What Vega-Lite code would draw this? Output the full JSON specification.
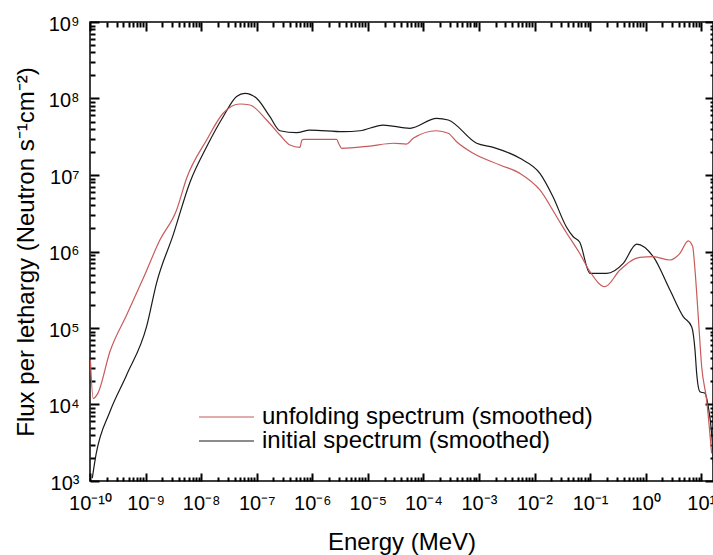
{
  "$schema": "https://vega.github.io/schema/vega-lite/v6.json",
  "width": 623,
  "height": 459,
  "autosize": {"type": "none"},
  "padding": {"left": 90, "top": 22, "right": 0, "bottom": 74},
  "background": "white",
  "config": {
    "view": {"stroke": "black", "strokeWidth": 1.5},
    "axis": {
      "domain": false,
      "labelFont": "Liberation Sans", "labelFontSize": 20, "labelColor": "black",
      "titleFont": "Liberation Sans", "titleFontSize": 24, "titleFontWeight": "normal", "titleColor": "black",
      "grid": false, "labelOverlap": false, "labelFlush": false, "labelBound": false
    }
  },
  "data": {"values": [
    {"series": "initial spectrum (smoothed)", "E": 1.10e-10, "F": 1.09e3},
    {"series": "initial spectrum (smoothed)", "E": 1.28e-10, "F": 2.19e3},
    {"series": "initial spectrum (smoothed)", "E": 2.28e-10, "F": 8.05e3},
    {"series": "initial spectrum (smoothed)", "E": 4.56e-10, "F": 2.43e4},
    {"series": "initial spectrum (smoothed)", "E": 1.045e-9, "F": 1.05e5},
    {"series": "initial spectrum (smoothed)", "E": 1.58e-9, "F": 3.9e5},
    {"series": "initial spectrum (smoothed)", "E": 3.14e-9, "F": 1.65e6},
    {"series": "initial spectrum (smoothed)", "E": 6.28e-9, "F": 8.0e6},
    {"series": "initial spectrum (smoothed)", "E": 1.257e-8, "F": 2.34e7},
    {"series": "initial spectrum (smoothed)", "E": 2.49e-8, "F": 5.78e7},
    {"series": "initial spectrum (smoothed)", "E": 4.35e-8, "F": 1.06e8},
    {"series": "initial spectrum (smoothed)", "E": 6.14e-8, "F": 1.17e8},
    {"series": "initial spectrum (smoothed)", "E": 9.97e-8, "F": 1.007e8},
    {"series": "initial spectrum (smoothed)", "E": 1.73e-7, "F": 5.78e7},
    {"series": "initial spectrum (smoothed)", "E": 2.62e-7, "F": 3.79e7},
    {"series": "initial spectrum (smoothed)", "E": 5.23e-7, "F": 3.57e7},
    {"series": "initial spectrum (smoothed)", "E": 9.08e-7, "F": 3.87e7},
    {"series": "initial spectrum (smoothed)", "E": 3.61e-6, "F": 3.68e7},
    {"series": "initial spectrum (smoothed)", "E": 7.21e-6, "F": 3.79e7},
    {"series": "initial spectrum (smoothed)", "E": 1.89e-5, "F": 4.5e7},
    {"series": "initial spectrum (smoothed)", "E": 5.73e-5, "F": 4.08e7},
    {"series": "initial spectrum (smoothed)", "E": 1.73e-4, "F": 5.51e7},
    {"series": "initial spectrum (smoothed)", "E": 2.80e-4, "F": 5.24e7},
    {"series": "initial spectrum (smoothed)", "E": 9.08e-4, "F": 2.6e7},
    {"series": "initial spectrum (smoothed)", "E": 1.81e-3, "F": 2.30e7},
    {"series": "initial spectrum (smoothed)", "E": 5.47e-3, "F": 1.65e7},
    {"series": "initial spectrum (smoothed)", "E": 1.25e-2, "F": 1.05e7},
    {"series": "initial spectrum (smoothed)", "E": 2.15e-2, "F": 5.2e6},
    {"series": "initial spectrum (smoothed)", "E": 3.73e-2, "F": 2.11e6},
    {"series": "initial spectrum (smoothed)", "E": 4.98e-2, "F": 1.56e6},
    {"series": "initial spectrum (smoothed)", "E": 6.49e-2, "F": 1.33e6},
    {"series": "initial spectrum (smoothed)", "E": 9.95e-2, "F": 5.19e5},
    {"series": "initial spectrum (smoothed)", "E": 0.199, "F": 5.19e5},
    {"series": "initial spectrum (smoothed)", "E": 0.395, "F": 7.01e5},
    {"series": "initial spectrum (smoothed)", "E": 0.689, "F": 1.25e6},
    {"series": "initial spectrum (smoothed)", "E": 1.371, "F": 8.55e5},
    {"series": "initial spectrum (smoothed)", "E": 2.74, "F": 3.14e5},
    {"series": "initial spectrum (smoothed)", "E": 4.75, "F": 1.41e5},
    {"series": "initial spectrum (smoothed)", "E": 6.73, "F": 1.04e5},
    {"series": "initial spectrum (smoothed)", "E": 7.73, "F": 5.16e4},
    {"series": "initial spectrum (smoothed)", "E": 8.28, "F": 2.56e4},
    {"series": "initial spectrum (smoothed)", "E": 9.49, "F": 1.47e4},
    {"series": "initial spectrum (smoothed)", "E": 11.67, "F": 1.40e4},
    {"series": "initial spectrum (smoothed)", "E": 13.4, "F": 9.35e3},
    {"series": "initial spectrum (smoothed)", "E": 15.4, "F": 4.2e3},
    {"series": "initial spectrum (smoothed)", "E": 16.9, "F": 1.39e3},
    {"series": "unfolding spectrum (smoothed)", "E": 1.017e-10, "F": 3.82e4},
    {"series": "unfolding spectrum (smoothed)", "E": 1.14e-10, "F": 1.2e4},
    {"series": "unfolding spectrum (smoothed)", "E": 1.39e-10, "F": 1.41e4},
    {"series": "unfolding spectrum (smoothed)", "E": 2.28e-10, "F": 4.9e4},
    {"series": "unfolding spectrum (smoothed)", "E": 4.56e-10, "F": 1.48e5},
    {"series": "unfolding spectrum (smoothed)", "E": 9.08e-10, "F": 4.47e5},
    {"series": "unfolding spectrum (smoothed)", "E": 1.81e-9, "F": 1.41e6},
    {"series": "unfolding spectrum (smoothed)", "E": 3.62e-9, "F": 3.49e6},
    {"series": "unfolding spectrum (smoothed)", "E": 5.48e-9, "F": 9.06e6},
    {"series": "unfolding spectrum (smoothed)", "E": 1.257e-8, "F": 2.87e7},
    {"series": "unfolding spectrum (smoothed)", "E": 2.49e-8, "F": 6.41e7},
    {"series": "unfolding spectrum (smoothed)", "E": 4.99e-8, "F": 8.47e7},
    {"series": "unfolding spectrum (smoothed)", "E": 7.55e-8, "F": 8.22e7},
    {"series": "unfolding spectrum (smoothed)", "E": 1.51e-7, "F": 5.24e7},
    {"series": "unfolding spectrum (smoothed)", "E": 2.62e-7, "F": 3.33e7},
    {"series": "unfolding spectrum (smoothed)", "E": 3.96e-7, "F": 2.47e7},
    {"series": "unfolding spectrum (smoothed)", "E": 6.0e-7, "F": 2.30e7},
    {"series": "unfolding spectrum (smoothed)", "E": 6.52e-7, "F": 2.87e7},
    {"series": "unfolding spectrum (smoothed)", "E": 7.08e-7, "F": 2.93e7},
    {"series": "unfolding spectrum (smoothed)", "E": 2.74e-6, "F": 2.93e7},
    {"series": "unfolding spectrum (smoothed)", "E": 3.02e-6, "F": 2.54e7},
    {"series": "unfolding spectrum (smoothed)", "E": 3.38e-6, "F": 2.23e7},
    {"series": "unfolding spectrum (smoothed)", "E": 1.09e-5, "F": 2.39e7},
    {"series": "unfolding spectrum (smoothed)", "E": 2.87e-5, "F": 2.6e7},
    {"series": "unfolding spectrum (smoothed)", "E": 4.99e-5, "F": 2.54e7},
    {"series": "unfolding spectrum (smoothed)", "E": 6.56e-5, "F": 3.02e7},
    {"series": "unfolding spectrum (smoothed)", "E": 1.73e-4, "F": 3.79e7},
    {"series": "unfolding spectrum (smoothed)", "E": 2.8e-4, "F": 3.51e7},
    {"series": "unfolding spectrum (smoothed)", "E": 3.96e-4, "F": 2.72e7},
    {"series": "unfolding spectrum (smoothed)", "E": 7.89e-4, "F": 1.92e7},
    {"series": "unfolding spectrum (smoothed)", "E": 2.39e-3, "F": 1.35e7},
    {"series": "unfolding spectrum (smoothed)", "E": 5.47e-3, "F": 1.05e7},
    {"series": "unfolding spectrum (smoothed)", "E": 1.25e-2, "F": 6.37e6},
    {"series": "unfolding spectrum (smoothed)", "E": 2.5e-2, "F": 2.85e6},
    {"series": "unfolding spectrum (smoothed)", "E": 3.68e-2, "F": 1.8e6},
    {"series": "unfolding spectrum (smoothed)", "E": 6.49e-2, "F": 9.47e5},
    {"series": "unfolding spectrum (smoothed)", "E": 9.95e-2, "F": 5.45e5},
    {"series": "unfolding spectrum (smoothed)", "E": 0.185, "F": 3.47e5},
    {"series": "unfolding spectrum (smoothed)", "E": 0.345, "F": 5.73e5},
    {"series": "unfolding spectrum (smoothed)", "E": 0.789, "F": 8.4e5},
    {"series": "unfolding spectrum (smoothed)", "E": 1.371, "F": 8.55e5},
    {"series": "unfolding spectrum (smoothed)", "E": 2.74, "F": 7.74e5},
    {"series": "unfolding spectrum (smoothed)", "E": 4.14, "F": 9.47e5},
    {"series": "unfolding spectrum (smoothed)", "E": 5.85, "F": 1.38e6},
    {"series": "unfolding spectrum (smoothed)", "E": 7.02, "F": 1.16e6},
    {"series": "unfolding spectrum (smoothed)", "E": 7.73, "F": 5.73e5},
    {"series": "unfolding spectrum (smoothed)", "E": 8.85, "F": 1.41e5},
    {"series": "unfolding spectrum (smoothed)", "E": 10.2, "F": 3.12e4},
    {"series": "unfolding spectrum (smoothed)", "E": 12.5, "F": 1.15e4},
    {"series": "unfolding spectrum (smoothed)", "E": 15.4, "F": 2.3e3}
  ]},
  "layer": [
    {
      "mark": {"type": "line", "strokeWidth": 1.2, "clip": true, "interpolate": "monotone"},
      "encoding": {
        "x": {"field": "E", "type": "quantitative",
          "scale": {"type": "log", "domain": [1e-10, 16.3], "nice": false},
          "axis": {
            "orient": "bottom",
            "values": [1e-10,1e-9,1e-8,1e-7,1e-6,1e-5,1e-4,1e-3,1e-2,0.1,1,10],
            "ticks": true, "tickSize": -8, "tickColor": "#000000", "tickWidth": 2,
            "labelExpr": "'10' + (round(log(datum.value)/LN10) < 0 ? '⁻' : '') + (abs(round(log(datum.value)/LN10)) >= 10 ? '¹⁰' : substring('⁰¹²³⁴⁵⁶⁷⁸⁹', abs(round(log(datum.value)/LN10)), abs(round(log(datum.value)/LN10)) + 1))",
            "labelPadding": 20,
            "labelBaseline": "top",
            "title": "Energy (MeV)",
            "titleX": 311.5, "titleY": 68, "titleBaseline": "alphabetic", "titleAlign": "center", "titleAnchor": "middle"
          }
        },
        "y": {"field": "F", "type": "quantitative",
          "scale": {"type": "log", "domain": [1e3, 1e9], "nice": false},
          "axis": {
            "orient": "left",
            "values": [1e3,1e4,1e5,1e6,1e7,1e8,1e9],
            "ticks": true, "tickSize": -9, "tickColor": "#000000", "tickWidth": 2,
            "labelExpr": "'10' + substring('⁰¹²³⁴⁵⁶⁷⁸⁹', round(log(datum.value)/LN10), round(log(datum.value)/LN10) + 1)",
            "labelPadding": 20,
            "labelOffset": 2,
            "title": "Flux per lethargy (Neutron s⁻¹cm⁻²)",
            "titleX": -57, "titleY": 229.5, "titleAngle": 270, "titleBaseline": "alphabetic", "titleAlign": "center", "titleAnchor": "middle"
          }
        },
        "color": {"field": "series", "type": "nominal",
          "scale": {"domain": ["unfolding spectrum (smoothed)", "initial spectrum (smoothed)"], "range": ["#c85a5a", "#1a1a1a"]},
          "legend": {"orient": "none", "legendX": 108, "legendY": 383, "title": null, "symbolType": "stroke", "symbolSize": 3025, "symbolStrokeWidth": 1.2, "clipHeight": 24, "labelFont": "Liberation Sans", "labelFontSize": 24, "labelColor": "black", "labelOffset": 7, "rowPadding": 0, "padding": 0, "labelLimit": 500}
        }
      }
    },
    {
      "mark": {"type": "line", "strokeOpacity": 0, "clip": true},
      "encoding": {
        "x": {"field": "E", "type": "quantitative",
          "scale": {"type": "log", "domain": [1e-10, 16.3], "nice": false},
          "axis": {
            "orient": "bottom", "offset": -4, "ticks": true, "tickSize": 4, "tickColor": "#000000", "tickWidth": 2, "labels": false, "title": null,
            "values": [2e-10,3e-10,4e-10,5e-10,6e-10,7e-10,8e-10,9e-10,2e-9,3e-9,4e-9,5e-9,6e-9,7e-9,8e-9,9e-9,2e-8,3e-8,4e-8,5e-8,6e-8,7e-8,8e-8,9e-8,2e-7,3e-7,4e-7,5e-7,6e-7,7e-7,8e-7,9e-7,2e-6,3e-6,4e-6,5e-6,6e-6,7e-6,8e-6,9e-6,2e-5,3e-5,4e-5,5e-5,6e-5,7e-5,8e-5,9e-5,2e-4,3e-4,4e-4,5e-4,6e-4,7e-4,8e-4,9e-4,2e-3,3e-3,4e-3,5e-3,6e-3,7e-3,8e-3,9e-3,2e-2,3e-2,4e-2,5e-2,6e-2,7e-2,8e-2,9e-2,0.2,0.3,0.4,0.5,0.6,0.7,0.8,0.9,2,3,4,5,6,7,8,9]
          }
        },
        "y": {"field": "F", "type": "quantitative",
          "scale": {"type": "log", "domain": [1e3, 1e9], "nice": false},
          "axis": {
            "orient": "left", "offset": -5, "ticks": true, "tickSize": 5, "tickColor": "#000000", "tickWidth": 2, "labels": false, "title": null,
            "values": [2e3,3e3,4e3,5e3,6e3,7e3,8e3,9e3,2e4,3e4,4e4,5e4,6e4,7e4,8e4,9e4,2e5,3e5,4e5,5e5,6e5,7e5,8e5,9e5,2e6,3e6,4e6,5e6,6e6,7e6,8e6,9e6,2e7,3e7,4e7,5e7,6e7,7e7,8e7,9e7,2e8,3e8,4e8,5e8,6e8,7e8,8e8,9e8]
          }
        },
        "detail": {"field": "series", "type": "nominal"}
      }
    },
    {
      "mark": {"type": "line", "strokeOpacity": 0, "clip": true},
      "encoding": {
        "x": {"field": "E", "type": "quantitative",
          "scale": {"type": "log", "domain": [1e-10, 16.3], "nice": false},
          "axis": {
            "orient": "top", "offset": -9, "ticks": true, "tickSize": 9, "tickColor": "#000000", "tickWidth": 2, "labels": false, "title": null,
            "values": [1e-10,1e-9,1e-8,1e-7,1e-6,1e-5,1e-4,1e-3,1e-2,0.1,1,10]
          }
        },
        "y": {"field": "F", "type": "quantitative",
          "scale": {"type": "log", "domain": [1e3, 1e9], "nice": false},
          "axis": {
            "orient": "right", "offset": -8, "ticks": true, "tickSize": 8, "tickColor": "#000000", "tickWidth": 2, "labels": false, "title": null,
            "values": [1e3,1e4,1e5,1e6,1e7,1e8,1e9]
          }
        },
        "detail": {"field": "series", "type": "nominal"}
      }
    },
    {
      "mark": {"type": "line", "strokeOpacity": 0, "clip": true},
      "encoding": {
        "x": {"field": "E", "type": "quantitative",
          "scale": {"type": "log", "domain": [1e-10, 16.3], "nice": false},
          "axis": {
            "orient": "top", "offset": -5, "ticks": true, "tickSize": 5, "tickColor": "#000000", "tickWidth": 2, "labels": false, "title": null,
            "values": [2e-10,3e-10,4e-10,5e-10,6e-10,7e-10,8e-10,9e-10,2e-9,3e-9,4e-9,5e-9,6e-9,7e-9,8e-9,9e-9,2e-8,3e-8,4e-8,5e-8,6e-8,7e-8,8e-8,9e-8,2e-7,3e-7,4e-7,5e-7,6e-7,7e-7,8e-7,9e-7,2e-6,3e-6,4e-6,5e-6,6e-6,7e-6,8e-6,9e-6,2e-5,3e-5,4e-5,5e-5,6e-5,7e-5,8e-5,9e-5,2e-4,3e-4,4e-4,5e-4,6e-4,7e-4,8e-4,9e-4,2e-3,3e-3,4e-3,5e-3,6e-3,7e-3,8e-3,9e-3,2e-2,3e-2,4e-2,5e-2,6e-2,7e-2,8e-2,9e-2,0.2,0.3,0.4,0.5,0.6,0.7,0.8,0.9,2,3,4,5,6,7,8,9]
          }
        },
        "y": {"field": "F", "type": "quantitative",
          "scale": {"type": "log", "domain": [1e3, 1e9], "nice": false},
          "axis": {
            "orient": "right", "offset": -3, "ticks": true, "tickSize": 3, "tickColor": "#000000", "tickWidth": 2, "labels": false, "title": null,
            "values": [2e3,3e3,4e3,5e3,6e3,7e3,8e3,9e3,2e4,3e4,4e4,5e4,6e4,7e4,8e4,9e4,2e5,3e5,4e5,5e5,6e5,7e5,8e5,9e5,2e6,3e6,4e6,5e6,6e6,7e6,8e6,9e6,2e7,3e7,4e7,5e7,6e7,7e7,8e7,9e7,2e8,3e8,4e8,5e8,6e8,7e8,8e8,9e8]
          }
        },
        "detail": {"field": "series", "type": "nominal"}
      }
    }
  ],
  "resolve": {"axis": {"x": "independent", "y": "independent"}}
}
